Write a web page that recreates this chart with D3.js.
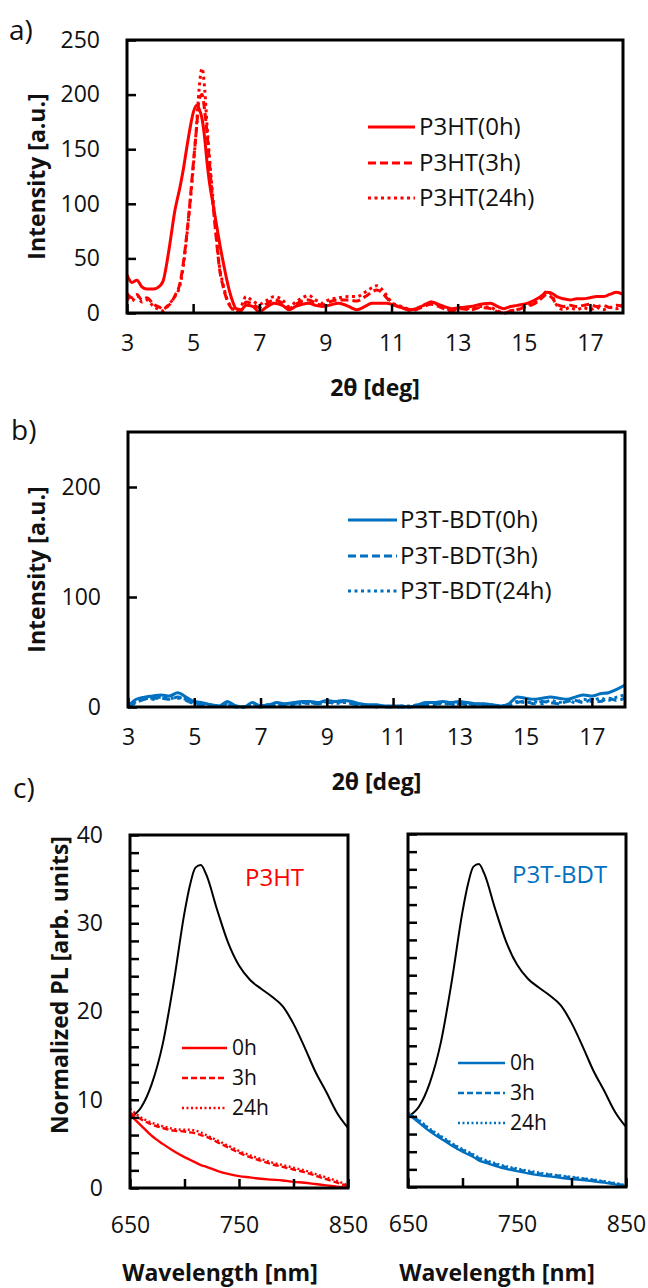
<!DOCTYPE html>
<html>
<head>
<meta charset="utf-8">
<script src="https://cdn.jsdelivr.net/npm/d3@7"></script>
<style>
  body { margin: 0; padding: 0; background: #fff; }
  svg { display: block; }
</style>
</head>
<body>
<div id="chart"></div>
<script>
const width = 648;
const height = 1288;
const font = "'Open Sans', 'Noto Sans', sans-serif";
const red = "#ff0000";
const blue = "#0070c0";

// ---- panel a: XRD of P3HT ----
const angleA = [3.0, 3.15, 3.3, 3.45, 3.6, 3.8, 4.0, 4.1, 4.2, 4.3, 4.45, 4.6, 4.7, 4.8, 4.9, 5.0, 5.1, 5.18, 5.27, 5.35,
  5.42, 5.5, 5.6, 5.7, 5.8, 5.9, 6.0, 6.1, 6.2, 6.3, 6.45, 6.6, 6.8, 7.0, 7.2, 7.45, 7.7, 7.9, 8.1, 8.3,
  8.5, 8.7, 8.9, 9.1, 9.4, 9.7, 9.95, 10.2, 10.4, 10.55, 10.7, 10.85, 11.0, 11.3, 11.6, 11.9, 12.2, 12.5, 12.8, 13.1,
  13.4, 13.7, 14.0, 14.2, 14.4, 14.6, 14.8, 15.0, 15.2, 15.4, 15.55, 15.7, 15.85, 16.0, 16.2, 16.4, 16.6, 16.8, 17.0, 17.2,
  17.4, 17.6, 17.8, 18.0];
const p3ht0h = [35, 28, 30, 24, 22, 22, 25, 30, 45, 64, 94, 115, 131, 150, 168, 183, 190, 187, 178, 160,
  138, 118, 100, 82, 64, 48, 33, 20, 10, 4, 3, 7, 6, 1, 5, 9, 7, 3, 6, 8,
  9, 7, 6, 7, 9, 6, 3, 6, 9, 9, 9, 9, 8, 5, 3, 6, 10, 7, 4, 5,
  6, 8, 9, 6, 4, 6, 7, 8, 10, 13, 16, 19, 18, 15, 13, 12, 13, 13, 14, 15,
  15, 17, 19, 17];
const p3ht3h = [18, 14, 17, 12, 14, 8, 5, 3, 6, 8, 16, 27, 45, 70, 100, 135, 168, 195, 200, 185,
  165, 135, 100, 68, 40, 25, 14, 7, 3, 1, 2, 10, 8, 5, 8, 12, 9, 4, 8, 11,
  12, 9, 7, 10, 12, 12, 11, 15, 19, 21, 19, 14, 9, 5, 2, 5, 8, 5, 2, 4,
  3, 5, 4, 1, 0, 2, 3, 5, 7, 10, 14, 17, 14, 8, 6, 7, 6, 7, 8, 6,
  7, 5, 7, 6];
const p3ht24h = [14, 11, 16, 10, 12, 6, 3, 2, 5, 9, 15, 25, 42, 68, 98, 132, 170, 205, 224, 205,
  172, 140, 105, 72, 42, 27, 15, 8, 4, 2, 6, 15, 11, 8, 11, 15, 12, 6, 10, 14,
  16, 12, 9, 12, 14, 15, 15, 19, 23, 25, 22, 16, 10, 6, 3, 6, 10, 6, 3, 5,
  4, 6, 5, 2, 0, 1, 3, 6, 8, 11, 15, 20, 16, 7, 3, 5, 3, 5, 3, 5,
  3, 5, 4, 8];

// ---- panel b: XRD of P3T-BDT ----
const angleB = d3.range(3, 18.001, 0.25);
const bdt0h = [1, 7, 9, 10, 11, 10, 13, 9, 5, 4, 2, 1, 5, 1, 0, 4, 1, 2, 4, 3,
  4, 5, 5, 4, 6, 5, 6, 5, 3, 2, 2, 1, 1, 1, 0, 2, 4, 4, 5, 4,
  5, 4, 3, 3, 2, 1, 3, 9, 8, 7, 8, 9, 8, 7, 9, 11, 10, 12, 13, 16, 20];
const bdt3h = [0, 4, 7, 8, 8, 7, 9, 6, 3, 2, 1, 0, 3, 0, 0, 2, 0, 1, 3, 2,
  3, 4, 3, 3, 4, 4, 5, 3, 2, 1, 1, 0, 0, 0, 0, 1, 2, 3, 3, 3,
  3, 3, 2, 2, 1, 0, 1, 4, 5, 3, 5, 4, 3, 5, 6, 4, 7, 5, 8, 6, 8];
const bdt24h = [0, 5, 8, 7, 9, 8, 8, 7, 4, 3, 2, 1, 2, 1, 0, 3, 1, 2, 2, 3,
  2, 3, 4, 3, 5, 3, 4, 4, 1, 1, 0, 1, 0, 1, 1, 2, 3, 2, 4, 2,
  4, 2, 3, 1, 2, 1, 2, 5, 4, 5, 3, 6, 4, 6, 4, 7, 5, 8, 6, 9, 11];

const xrdTicks = [3, 5, 7, 9, 11, 13, 15, 17];

// ---- panel c: normalized PL ----
const wavelength = [650, 660, 670, 680, 690, 700, 705, 710, 715, 720, 730, 740, 750, 760, 770, 780, 790, 800, 810, 820, 830, 840, 850];
const plReference = [8.0, 9.1, 11.8, 16.3, 23.2, 31.2, 34.3, 36.3, 36.6, 35.5, 31.5, 27.8, 25.2, 23.6, 22.6, 21.7, 20.6, 18.6, 16.0, 13.2, 10.9, 8.5, 6.8];
const plP3ht0h = [8.3, 7.1, 5.9, 5.0, 4.2, 3.5, 3.2, 2.9, 2.6, 2.4, 1.95, 1.6, 1.35, 1.2, 1.05, 0.95, 0.85, 0.7, 0.6, 0.45, 0.3, 0.15, 0.0];
const plP3ht3h = [8.5, 7.8, 7.2, 6.8, 6.5, 6.4, 6.3, 6.2, 6.0, 5.8, 5.2, 4.6, 4.0, 3.5, 3.1, 2.7, 2.4, 2.1, 1.8, 1.4, 1.0, 0.6, 0.2];
const plP3ht24h = [9.0, 8.0, 7.4, 7.0, 6.7, 6.6, 6.6, 6.5, 6.3, 6.0, 5.4, 4.8, 4.2, 3.7, 3.3, 2.9, 2.6, 2.3, 2.0, 1.6, 1.2, 0.8, 0.3];
const plBdt0h = [8.3, 7.3, 6.3, 5.5, 4.7, 4.0, 3.7, 3.4, 3.0, 2.8, 2.4, 2.05, 1.8, 1.55, 1.35, 1.2, 1.05, 0.9, 0.8, 0.65, 0.5, 0.3, 0.1];
const plBdt3h = [8.3, 7.5, 6.5, 5.7, 4.9, 4.2, 3.9, 3.6, 3.25, 3.0, 2.6, 2.25, 2.0, 1.75, 1.55, 1.4, 1.25, 1.1, 0.95, 0.8, 0.6, 0.4, 0.15];
const plBdt24h = [8.4, 7.6, 6.6, 5.8, 5.0, 4.3, 4.0, 3.7, 3.35, 3.1, 2.7, 2.35, 2.1, 1.85, 1.65, 1.45, 1.3, 1.15, 1.0, 0.85, 0.65, 0.45, 0.2];

const plXTicks = [650, 700, 750, 800, 850];
const plXLabels = [650, 750, 850];

const dashStyles = { solid: null, dash: "8,4", dot: "3,3.5" };
const plDashStyles = { solid: null, dash: "6,3", dot: "2,2.5" };

const svg = d3.select("#chart")
  .append("svg")
  .attr("width", width)
  .attr("height", height)
  .style("background-color", "white");

function styleAxis(g, size) {
  g.attr("font-family", font).attr("font-size", size);
  g.select(".domain").remove();
  g.selectAll(".tick line").attr("stroke", "#000").attr("stroke-width", 2.5);
  g.selectAll(".tick text").attr("fill", "#111");
}

function addText(x, y, str, opts) {
  const t = svg.append("text")
    .attr("x", x)
    .attr("y", y)
    .attr("dy", "0.35em")
    .attr("font-family", font)
    .attr("font-size", opts.size)
    .attr("font-weight", opts.bold ? "bold" : "normal")
    .attr("fill", opts.color || "#111")
    .attr("text-anchor", opts.anchor || "start")
    .text(str);
  if (opts.rotate) {
    t.attr("x", 0).attr("y", 0).attr("transform", "translate(" + x + "," + y + ") rotate(-90)");
  }
  return t;
}

function drawSeries(x, y, xs, ys, color, dash, lw) {
  const line = d3.line()
    .x((d) => x(d[0]))
    .y((d) => y(d[1]))
    .curve(d3.curveMonotoneX);
  svg.append("path")
    .datum(xs.map((v, i) => [v, ys[i]]))
    .attr("d", line)
    .attr("fill", "none")
    .attr("stroke", color)
    .attr("stroke-width", lw)
    .attr("stroke-linejoin", "round")
    .attr("stroke-dasharray", dash);
}

function drawFrame(x, y) {
  svg.append("rect")
    .attr("x", x.range()[0])
    .attr("y", y.range()[1])
    .attr("width", x.range()[1] - x.range()[0])
    .attr("height", y.range()[0] - y.range()[1])
    .attr("fill", "none")
    .attr("stroke", "#000")
    .attr("stroke-width", 3);
}

function drawLegend(rows, x1, x2, tx, color, styles, lw, size) {
  rows.forEach((r) => {
    svg.append("line")
      .attr("x1", x1).attr("x2", x2)
      .attr("y1", r.y).attr("y2", r.y)
      .attr("stroke", color)
      .attr("stroke-width", lw)
      .attr("stroke-dasharray", styles[r.style]);
    addText(tx, r.y, r.label, { size: size });
  });
}

// XRD panel (a and b share the layout)
function drawXrd(p) {
  const x = d3.scaleLinear().domain([3, 18]).range([p.left, p.right]);
  const y = d3.scaleLinear().domain([0, 250]).range([p.bottom, p.top]);

  p.series.forEach((s) => drawSeries(x, y, p.angles, s.values, p.color, dashStyles[s.style], 3));

  svg.append("g")
    .attr("transform", "translate(0," + p.bottom + ")")
    .call(d3.axisBottom(x).tickValues(xrdTicks).tickSizeInner(-9).tickSizeOuter(0).tickPadding(22).tickFormat(d3.format("d")))
    .call((g) => styleAxis(g, 23));

  svg.append("g")
    .attr("transform", "translate(" + p.left + ",0)")
    .call(d3.axisLeft(y).tickValues(p.yTicks).tickSizeInner(-9).tickSizeOuter(0).tickPadding(27))
    .call((g) => styleAxis(g, 23));

  drawFrame(x, y);

  addText(37, (p.top + p.bottom) / 2, "Intensity [a.u.]", { size: 23, bold: true, anchor: "middle", rotate: true });
  addText((p.left + p.right) / 2, p.bottom + 75, "2θ [deg]", { size: 23, bold: true, anchor: "middle" });
  addText(p.tagX, p.tagY, p.tag, { size: 28 });

  drawLegend(p.legend, p.legX1, p.legX2, p.legTx, p.color, dashStyles, 3, 24);
}

drawXrd({
  left: 127, right: 623, top: 40, bottom: 313,
  angles: angleA, color: red,
  series: [
    { values: p3ht0h, style: "solid" },
    { values: p3ht3h, style: "dash" },
    { values: p3ht24h, style: "dot" },
  ],
  yTicks: [0, 50, 100, 150, 200, 250],
  tag: "a)", tagX: 9, tagY: 30,
  legX1: 368, legX2: 415, legTx: 419,
  legend: [
    { y: 127, label: "P3HT(0h)", style: "solid" },
    { y: 163, label: "P3HT(3h)", style: "dash" },
    { y: 198, label: "P3HT(24h)", style: "dot" },
  ],
});

drawXrd({
  left: 128, right: 625, top: 432, bottom: 707,
  angles: angleB, color: blue,
  series: [
    { values: bdt0h, style: "solid" },
    { values: bdt3h, style: "dash" },
    { values: bdt24h, style: "dot" },
  ],
  yTicks: [0, 100, 200],
  tag: "b)", tagX: 11, tagY: 430,
  legX1: 348, legX2: 397, legTx: 400,
  legend: [
    { y: 520, label: "P3T-BDT(0h)", style: "solid" },
    { y: 556, label: "P3T-BDT(3h)", style: "dash" },
    { y: 591, label: "P3T-BDT(24h)", style: "dot" },
  ],
});

// PL panels (c)
function drawPL(p) {
  const x = d3.scaleLinear().domain([650, 850]).range([p.left, p.right]);
  const y = d3.scaleLinear().domain([0, 40]).range([p.bottom, p.top]);

  drawSeries(x, y, wavelength, plReference, "#000", null, 2);
  p.series.forEach((s) => drawSeries(x, y, wavelength, s.values, p.color, plDashStyles[s.style], 2.4));

  svg.append("g")
    .attr("transform", "translate(0," + p.bottom + ")")
    .call(d3.axisBottom(x).tickValues(plXTicks).tickSizeInner(-9).tickSizeOuter(0).tickPadding(29)
      .tickFormat((d) => (plXLabels.includes(d) ? d : "")))
    .call((g) => styleAxis(g, 23));

  svg.append("g")
    .attr("transform", "translate(" + p.left + ",0)")
    .call(d3.axisLeft(y).tickValues(d3.range(0, 41, 2)).tickSizeInner(-9).tickSizeOuter(0).tickPadding(27)
      .tickFormat((d) => (p.yLabels && d % 10 === 0 ? d : "")))
    .call((g) => styleAxis(g, 23));

  drawFrame(x, y);

  addText(p.titleX, 1273, "Wavelength [nm]", { size: 23, bold: true, anchor: "middle" });
  addText(p.nameX, p.nameY, p.name, { size: 24, color: p.color });
  drawLegend(p.legend, p.legX1, p.legX2, p.legTx, p.color, plDashStyles, 2.4, 21);
}

drawPL({
  left: 130, right: 348, top: 835, bottom: 1188,
  color: red, yLabels: true,
  series: [
    { values: plP3ht0h, style: "solid" },
    { values: plP3ht3h, style: "dash" },
    { values: plP3ht24h, style: "dot" },
  ],
  titleX: 220,
  name: "P3HT", nameX: 245, nameY: 878,
  legX1: 182, legX2: 227, legTx: 232,
  legend: [
    { y: 1048, label: "0h", style: "solid" },
    { y: 1078, label: "3h", style: "dash" },
    { y: 1108, label: "24h", style: "dot" },
  ],
});

drawPL({
  left: 408, right: 626, top: 834, bottom: 1187,
  color: blue, yLabels: false,
  series: [
    { values: plBdt0h, style: "solid" },
    { values: plBdt3h, style: "dash" },
    { values: plBdt24h, style: "dot" },
  ],
  titleX: 497,
  name: "P3T-BDT", nameX: 512, nameY: 875,
  legX1: 458, legX2: 505, legTx: 510,
  legend: [
    { y: 1063, label: "0h", style: "solid" },
    { y: 1093, label: "3h", style: "dash" },
    { y: 1123, label: "24h", style: "dot" },
  ],
});

addText(60, 985, "Normalized PL [arb. units]", { size: 23, bold: true, anchor: "middle", rotate: true });
addText(13, 788, "c)", { size: 28 });
</script>
</body>
</html>
